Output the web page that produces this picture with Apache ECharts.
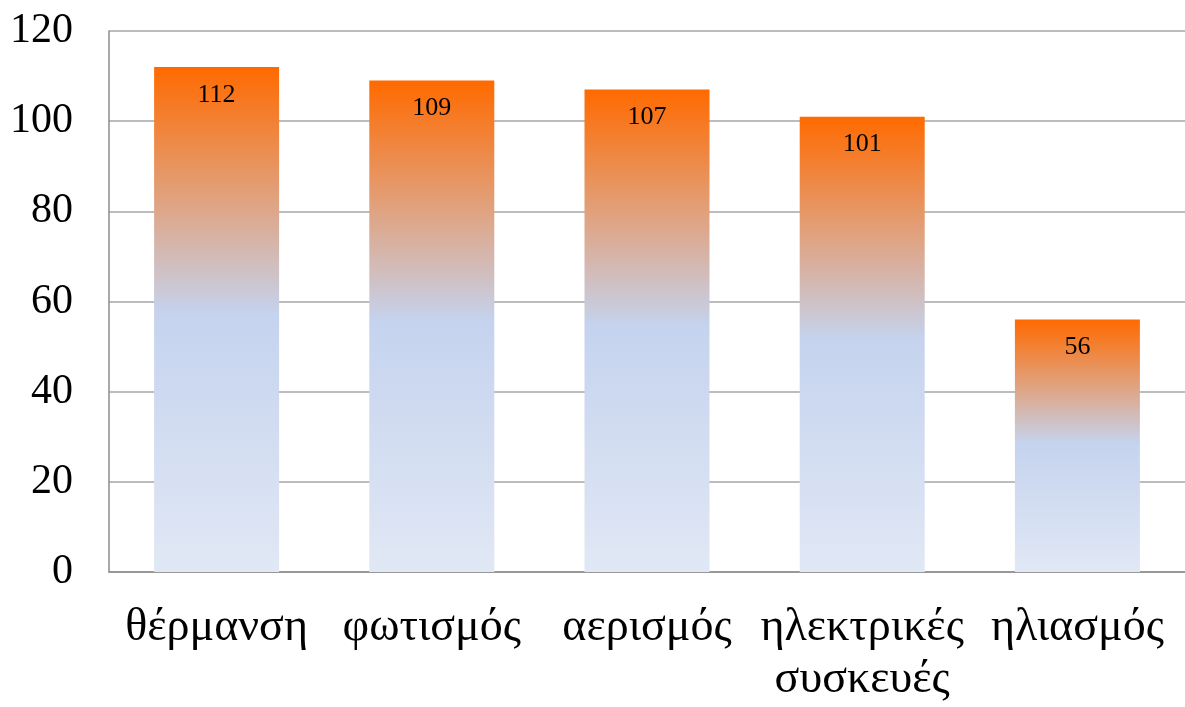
<!DOCTYPE html>
<html>
<head>
<meta charset="utf-8">
<script src="https://cdn.jsdelivr.net/npm/echarts@6/dist/echarts.min.js"></script>
<style>
html,body{margin:0;padding:0;background:#fff;}
#chart{width:1185px;height:707px;}
</style>
</head>
<body>
<div id="chart"></div>
<script>
const categories = ['θέρμανση', 'φωτισμός', 'αερισμός', 'ηλεκτρικές\nσυσκευές', 'ηλιασμός'];
const values = [112, 109, 107, 101, 56];
const yTicks = {min: 0, max: 120, interval: 20};

const FONT = '"Liberation Serif", "Times New Roman", serif';
const chart = echarts.init(document.getElementById('chart'));
chart.setOption({
  animation: false,
  grid: {left: 109, top: 31, width: 1082, height: 541},
  xAxis: {
    type: 'category',
    data: categories,
    axisLine: {show: true, lineStyle: {color: '#8c8c8c', width: 1.5}},
    axisTick: {show: false},
    axisLabel: {interval: 0, fontFamily: FONT, fontSize: 46, color: '#000', lineHeight: 52, margin: 30}
  },
  yAxis: {
    type: 'value',
    min: yTicks.min, max: yTicks.max, interval: yTicks.interval,
    axisLine: {show: true, lineStyle: {color: '#8c8c8c', width: 1.5}},
    axisTick: {show: false},
    splitLine: {lineStyle: {color: '#a6a6a6', width: 1.5}},
    axisLabel: {fontFamily: FONT, fontSize: 42, color: '#000', margin: 36}
  },
  series: [{
    type: 'bar',
    data: values,
    barWidth: 125,
    itemStyle: {
      color: new echarts.graphic.LinearGradient(0, 0, 0, 1, [
        {offset: 0, color: '#FF6A00'},
        {offset: 0.49, color: '#C5D3EE'},
        {offset: 1, color: '#E1E8F5'}
      ])
    },
    label: {show: true, position: 'insideTop', distance: 15, fontFamily: FONT, fontSize: 26, color: '#000'}
  }]
});
</script>
</body>
</html>
